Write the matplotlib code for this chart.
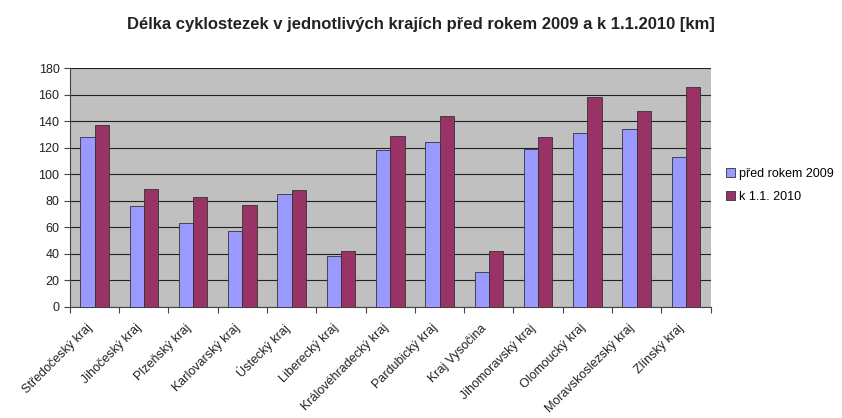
import numpy as np
import matplotlib
matplotlib.use("Agg")
import matplotlib.pyplot as plt

plt.rcParams['font.family'] = ['Liberation Sans', 'DejaVu Sans']

kraje = ["Středočeský kraj", "Jihočeský kraj", "Plzeňský kraj", "Karlovarský kraj",
         "Ústecký kraj", "Liberecký kraj", "Královéhradecký kraj", "Pardubický kraj",
         "Kraj Vysočina", "Jihomoravský kraj", "Olomoucký kraj", "Moravskoslezský kraj",
         "Zlínský kraj"]
pred_2009 = [128, 76, 63, 57, 85, 38, 118, 124, 26, 119, 131, 134, 113]
k_2010 = [137, 89, 83, 77, 88, 42, 129, 144, 42, 128, 158, 148, 166]

fig = plt.figure(figsize=(8.42, 4.18), dpi=100)
ax = fig.add_axes([0.083, 0.266, 0.761, 0.571])

x = np.arange(len(kraje))
w = 0.29
ax.bar(x - w/2, pred_2009, w, color='#9999FF', edgecolor='#333333', linewidth=0.6,
       label='před rokem 2009', zorder=3)
ax.bar(x + w/2, k_2010, w, color='#993366', edgecolor='#333333', linewidth=0.6,
       label='k 1.1. 2010', zorder=3)

ax.set_facecolor('#C0C0C0')
ax.set_xlim(-0.5, len(kraje) - 0.5)
ax.set_ylim(0, 180)
ax.set_yticks(range(0, 181, 20))
ax.yaxis.grid(True, color='#222222', linewidth=0.8, zorder=0)
ax.set_axisbelow(True)

ax.set_xticks(np.arange(-0.5, len(kraje), 1))
ax.set_xticklabels([])
ax.set_xticks(x - 0.08, minor=True)
ax.set_xticklabels(kraje, minor=True, rotation=45, ha='right', va='center',
                   rotation_mode='anchor', fontsize=9, color='#222222')
ax.tick_params(axis='x', which='minor', length=0, pad=14)
ax.tick_params(axis='x', which='major', length=4, color='#444444')
ax.tick_params(axis='y', labelsize=9, length=4, color='#444444', labelcolor='#222222')

for s in ['top', 'right']:
    ax.spines[s].set_visible(False)
ax.spines['left'].set_color('#444444')
ax.spines['bottom'].set_color('#444444')

fig.suptitle('Délka cyklostezek v jednotlivých krajích před rokem 2009 a k 1.1.2010 [km]',
             x=0.5, y=0.96, fontsize=12, fontweight='bold', color='#222222')

fig.legend(loc='center left', bbox_to_anchor=(0.852, 0.557), frameon=False, fontsize=9,
           handlelength=0.7, handleheight=0.7, handletextpad=0.35, labelspacing=0.9,
           borderpad=0.2)

fig.savefig('out.png', dpi=100)
